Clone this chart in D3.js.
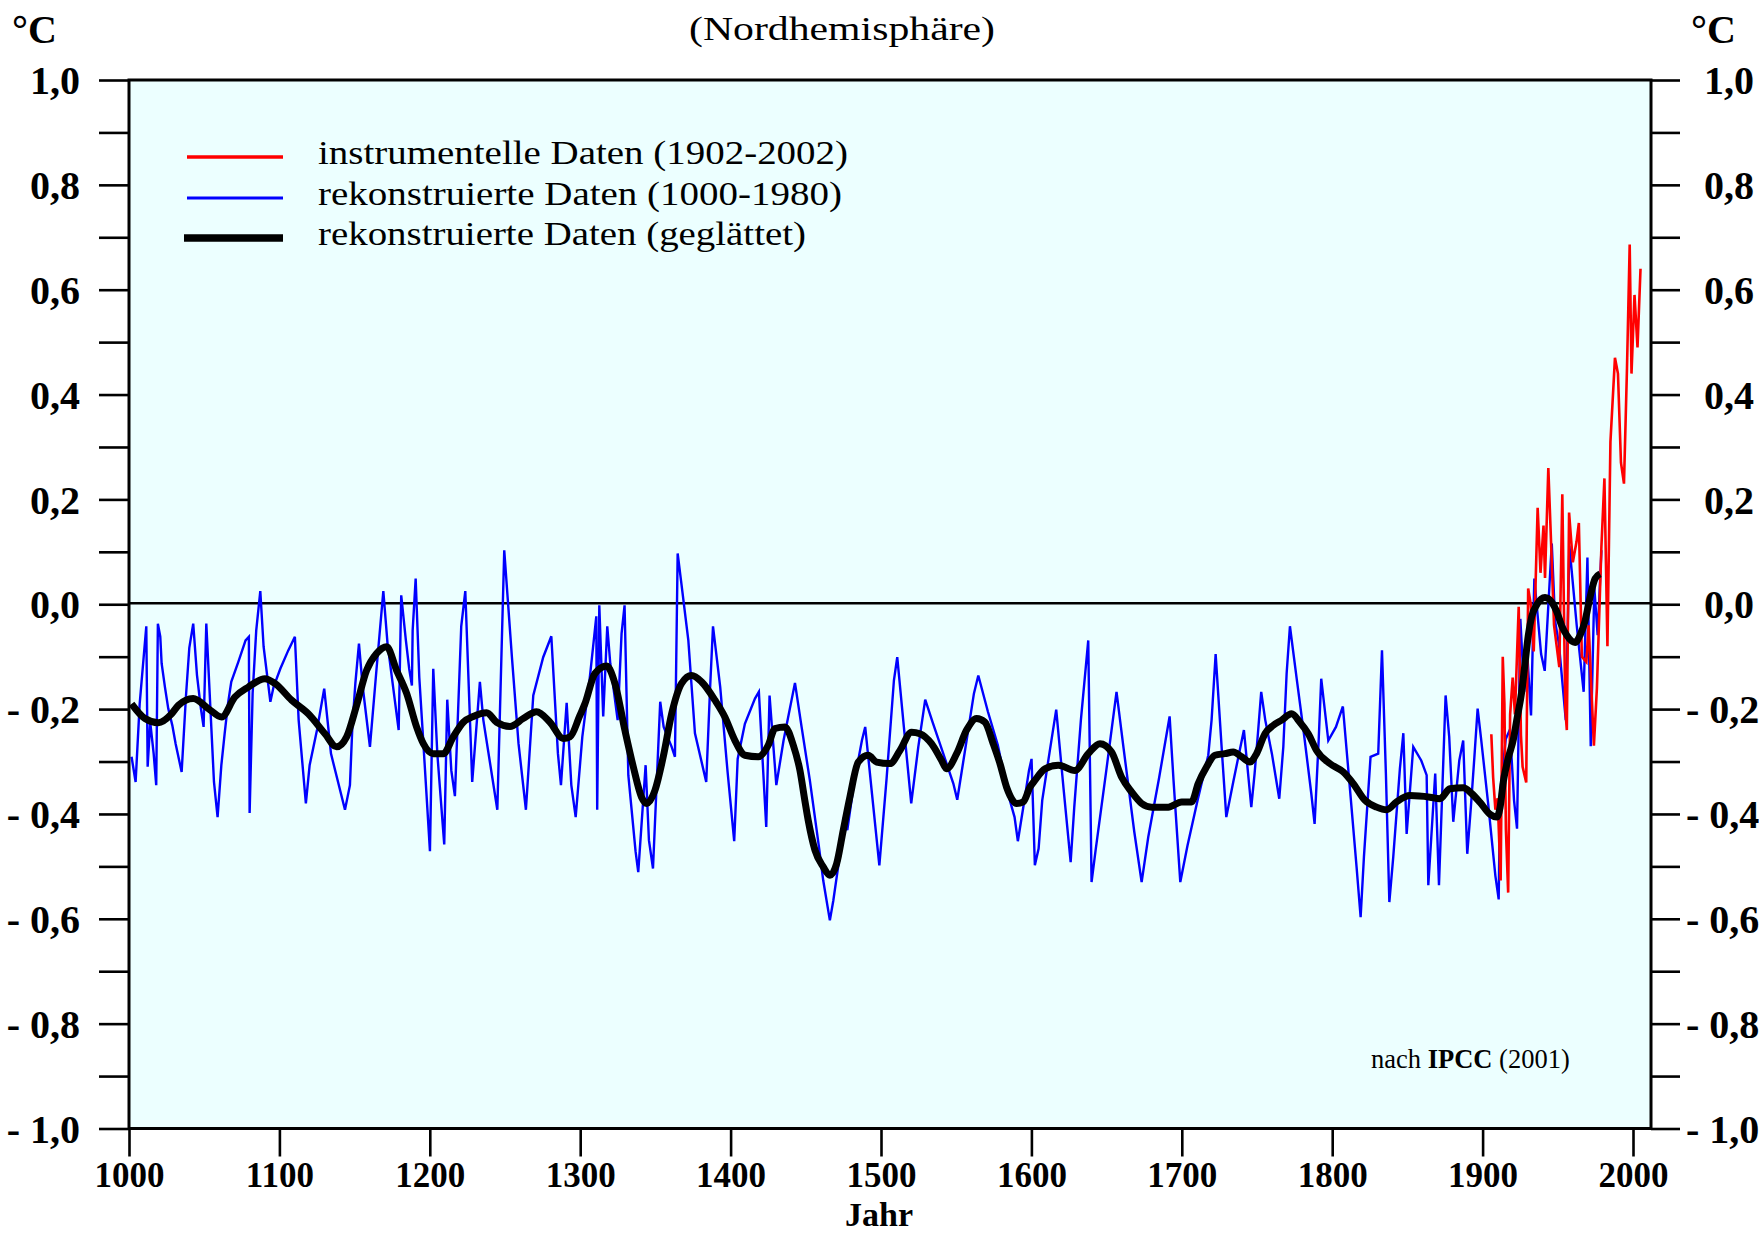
<!DOCTYPE html>
<html><head><meta charset="utf-8">
<script src="https://cdn.jsdelivr.net/npm/d3@7"></script>
<style>html,body{margin:0;padding:0;background:#fff;} svg{display:block;}</style>
</head><body>
<svg id="chart" width="1759" height="1238"></svg>
<script>
// ---- data ----
const reconYears = [1001.7,1004.4,1007.1,1011.5,1012.4,1014.1,1016.4,1018.1,1019.2,1020.8,1021.7,1023.9,1026.1,1028.8,1031.0,1035.0,1037.9,1040.1,1042.7,1045.2,1047.8,1049.6,1051.4,1054.3,1056.5,1058.9,1061.4,1063.6,1065.8,1068.0,1072.7,1077.5,1079.7,1080.2,1082.2,1084.6,1087.3,1089.5,1094.0,1096.1,1100.6,1105.9,1110.3,1112.8,1117.6,1120.1,1125.0,1129.8,1134.3,1143.6,
1146.9,1148.5,1150.5,1152.9,1155.3,1160.2,1164.6,1169.1,1171.9,1179.3,1181.0,1184.1,1186.3,1188.1,1188.6,1190.6,1193.0,1195.2,1200.1,1202.3,1205.0,1209.6,1211.6,1214.3,1216.7,1220.9,1223.6,1228.2,1233.3,1235.6,1244.9,1249.5,1254.6,1259.0,1263.9,1268.8,1275.4,1280.8,1285.2,1287.2,1291.0,1294.1,1297.0,
1301.4,1306.3,1308.5,1310.7,1311.3,1312.7,1315.3,1318.0,1320.0,1324.9,1327.5,1329.5,1332.0,1336.8,1338.6,1343.5,1345.7,1348.4,1353.2,1355.5,1360.8,1363.0,1364.8,1367.0,1371.9,1376.3,1383.8,1386.3,1388.3,1393.1,1398.0,1402.4,1404.7,1409.5,1416.2,1418.8,1423.7,1425.9,1430.4,1435.2,1442.8,
1447.2,1452.7,1458.9,1461.6,1466.0,1468.3,1473.1,1475.4,1477.6,1482.0,1487.3,1489.5,1494.0,1498.9,1503.7,1508.6,1510.8,1515.2,1520.1,1524.8,1529.4,1534.3,1541.4,1548.1,1550.7,1556.9,1561.8,1564.7,1571.1,1577.7,1584.4,1588.8,1591.0,1595.5,
1598.4,1600.1,1602.3,1604.8,1607.2,1612.1,1616.5,1621.4,1626.1,1628.5,1632.9,1637.8,1640.0,1642.7,1649.8,1656.6,1661.3,1668.4,1673.3,1677.7,1684.8,1691.9,1694.5,1699.0,1703.8,1710.5,1717.6,1719.8,1722.5,1726.9,1729.6,1734.4,1741.3,
1746.2,1748.4,1750.6,1752.8,1755.5,1759.9,1764.8,1767.5,1769.7,1771.9,1776.8,1781.2,1786.1,1788.3,1791.0,1792.7,1797.4,1802.5,1807.1,1811.8,1816.2,1818.9,1821.1,1825.5,1830.6,1833.1,1835.7,1838.0,1840.6,1845.0,1847.3,1849.5,1853.9,1859.2,1862.8,1863.9,1868.5,1871.0,1875.4,1877.8,1880.5,1884.5,1887.1,1889.8,
1892.3,1894.5,1896.7,1899.0,1903.8,1908.5,1910.7,1911.6,1915.4,1918.2,1920.9,1922.9,1925.1,1927.6,1930.0,1932.2,1934.4,1938.9,1941.3,1946.0,1948.2,1950.8,1955.3,1957.7,1962.6,1967.2,1969.7,1971.9,1974.3,1976.5,1979.0];
const reconValues = [-0.291,-0.339,-0.190,-0.042,-0.310,-0.225,-0.285,-0.345,-0.037,-0.062,-0.113,-0.158,-0.199,-0.231,-0.266,-0.320,-0.174,-0.083,-0.037,-0.135,-0.199,-0.234,-0.037,-0.209,-0.339,-0.406,-0.307,-0.247,-0.190,-0.148,-0.110,-0.069,-0.062,-0.398,-0.170,-0.050,0.025,-0.081,-0.186,-0.158,-0.123,-0.088,-0.062,-0.221,-0.380,-0.307,-0.240,-0.161,-0.285,-0.392,
-0.345,-0.234,-0.151,-0.075,-0.155,-0.272,-0.123,0.025,-0.075,-0.240,0.017,-0.069,-0.123,-0.155,-0.050,0.049,-0.139,-0.240,-0.471,-0.123,-0.285,-0.458,-0.182,-0.317,-0.366,-0.042,0.025,-0.339,-0.148,-0.221,-0.392,0.103,-0.101,-0.266,-0.392,-0.174,-0.101,-0.061,-0.285,-0.345,-0.188,-0.345,-0.406,
-0.253,-0.142,-0.083,-0.023,-0.392,-0.002,-0.214,-0.042,-0.113,-0.221,-0.056,-0.002,-0.326,-0.471,-0.511,-0.307,-0.450,-0.504,-0.186,-0.234,-0.272,-0.291,0.097,0.046,-0.069,-0.246,-0.339,-0.164,-0.042,-0.158,-0.320,-0.452,-0.295,-0.228,-0.180,-0.167,-0.425,-0.174,-0.345,-0.260,-0.150,
-0.234,-0.336,-0.466,-0.527,-0.603,-0.565,-0.469,-0.406,-0.431,-0.342,-0.260,-0.234,-0.361,-0.498,-0.333,-0.145,-0.101,-0.234,-0.380,-0.272,-0.182,-0.225,-0.285,-0.342,-0.373,-0.260,-0.170,-0.136,-0.205,-0.269,-0.361,-0.406,-0.452,-0.371,
-0.317,-0.295,-0.498,-0.466,-0.374,-0.282,-0.201,-0.352,-0.492,-0.387,-0.221,-0.069,-0.530,-0.469,-0.317,-0.167,-0.275,-0.434,-0.530,-0.444,-0.333,-0.214,-0.336,-0.530,-0.460,-0.374,-0.288,-0.221,-0.095,-0.291,-0.406,-0.336,-0.240,
-0.387,-0.323,-0.247,-0.167,-0.221,-0.285,-0.371,-0.272,-0.132,-0.042,-0.151,-0.247,-0.361,-0.419,-0.260,-0.142,-0.260,-0.234,-0.195,-0.352,-0.501,-0.597,-0.482,-0.291,-0.285,-0.088,-0.323,-0.568,-0.482,-0.314,-0.246,-0.438,-0.272,-0.298,-0.326,-0.536,-0.323,-0.536,-0.174,-0.253,-0.415,-0.298,-0.260,-0.476,
-0.383,-0.293,-0.199,-0.257,-0.383,-0.518,-0.563,-0.361,-0.257,-0.239,-0.374,-0.428,-0.028,-0.167,-0.109,-0.212,0.049,-0.095,-0.127,0.116,-0.032,-0.077,-0.221,0.112,-0.041,-0.167,0.089,-0.271,0.031,-0.059,0.103];

const smoothYears = [1001.7,1010.6,1019.5,1028.3,1032.8,1042.7,1052.7,1061.6,1070.4,1079.3,1090.4,1097.0,1108.1,1119.2,1130.3,1138.0,1144.7,1151.3,1158.0,1164.6,1171.3,1177.9,1184.6,1191.2,1195.7,1202.3,1209.0,1215.6,1222.3,1228.9,1237.8,1244.4,1253.3,1262.1,1271.0,1279.9,1288.7,1293.2,1299.8,1303.1,1309.8,1317.6,1323.1,1329.7,1335.3,1340.8,1344.2,1349.7,1355.2,1360.8,1367.4,1374.1,1380.7,1389.6,1396.2,1402.9,1409.5,1418.4,1425.0,1429.5,1436.1,1441.7,1446.1,1449.4,1451.6,1456.1,1461.6,1466.0,1470.5,1474.9,1479.3,1484.9,1491.5,1497.1,1505.9,1512.6,1520.3,1525.9,1533.6,1540.3,1543.6,1550.3,1556.9,1563.6,1569.1,1574.6,1579.1,1583.5,1590.2,1594.6,1599.0,1602.3,1609.0,1617.9,1628.9,1637.8,1645.6,1653.3,1660.0,1666.6,1673.3,1679.9,1691.0,1699.9,1706.5,1710.9,1716.5,1722.0,1728.7,1734.2,1739.8,1745.3,1749.7,1755.3,1760.8,1766.4,1773.0,1778.5,1784.1,1789.6,1798.5,1807.4,1814.0,1821.8,1829.5,1836.2,1842.8,1851.7,1865.0,1871.6,1878.3,1887.1,1892.7,1898.3,1905.0,1909.4,1911.6,1913.8,1917.1,1920.5,1922.7,1926.0,1928.2,1930.4,1932.7,1936.0,1941.5,1946.0,1949.3,1952.6,1955.9,1961.5,1964.8,1968.1,1971.4,1974.8,1978.1];
const smoothValues = [-0.190,-0.218,-0.226,-0.209,-0.193,-0.180,-0.199,-0.215,-0.177,-0.158,-0.142,-0.151,-0.183,-0.209,-0.247,-0.272,-0.253,-0.193,-0.126,-0.094,-0.081,-0.126,-0.170,-0.234,-0.266,-0.285,-0.285,-0.253,-0.225,-0.214,-0.207,-0.225,-0.233,-0.218,-0.205,-0.225,-0.256,-0.253,-0.212,-0.190,-0.132,-0.118,-0.151,-0.240,-0.310,-0.368,-0.380,-0.355,-0.291,-0.209,-0.151,-0.136,-0.148,-0.183,-0.215,-0.260,-0.288,-0.291,-0.269,-0.237,-0.234,-0.269,-0.317,-0.375,-0.412,-0.469,-0.501,-0.517,-0.495,-0.431,-0.368,-0.301,-0.288,-0.301,-0.304,-0.279,-0.244,-0.247,-0.266,-0.298,-0.314,-0.285,-0.240,-0.218,-0.225,-0.266,-0.304,-0.349,-0.380,-0.377,-0.349,-0.336,-0.314,-0.307,-0.317,-0.285,-0.266,-0.282,-0.330,-0.358,-0.380,-0.387,-0.387,-0.377,-0.377,-0.342,-0.310,-0.288,-0.285,-0.282,-0.291,-0.301,-0.285,-0.247,-0.231,-0.221,-0.209,-0.225,-0.247,-0.279,-0.304,-0.320,-0.342,-0.374,-0.387,-0.392,-0.377,-0.365,-0.368,-0.371,-0.352,-0.350,-0.361,-0.378,-0.401,-0.406,-0.388,-0.338,-0.293,-0.257,-0.221,-0.167,-0.113,-0.059,-0.023,-0.001,0.013,0.004,-0.014,-0.041,-0.059,-0.073,-0.059,-0.032,0.013,0.049,0.058];

const instrYears = [1905.8,1907.0,1908.5,1910.0,1912.0,1913.4,1914.5,1915.5,1917.0,1918.3,1920.0,1921.5,1924.0,1925.5,1926.6,1929.0,1930.3,1932.0,1934.0,1936.6,1938.5,1940.5,1941.5,1943.7,1945.5,1947.5,1951.0,1953.0,1955.0,1956.0,1957.5,1960.0,1962.5,1964.0,1966.0,1969.0,1970.5,1974.0,1976.0,1979.0,1981.0,1983.0,1985.0,1988.0,1990.0,1992.0,1994.0,1996.0,1997.8,1999.0,2001.0,2003.0,2005.0];
const instrValues = [-0.248,-0.33,-0.392,-0.37,-0.527,-0.100,-0.19,-0.43,-0.55,-0.21,-0.14,-0.21,-0.005,-0.25,-0.31,-0.34,0.03,0.0,-0.09,0.184,0.06,0.15,0.05,0.26,0.12,-0.04,-0.12,0.21,-0.20,-0.24,0.175,0.08,0.12,0.155,-0.10,-0.11,-0.04,-0.27,-0.16,0.11,0.24,-0.08,0.31,0.47,0.44,0.27,0.23,0.45,0.686,0.44,0.59,0.49,0.64];

const xTickValues = [1000,1100,1200,1300,1400,1500,1600,1700,1800,1900,2000];
const xTickLabels = ["1000","1100","1200","1300","1400","1500","1600","1700","1800","1900","2000"];
const yTickValues = [-1.0,-0.9,-0.8,-0.7,-0.6,-0.5,-0.4,-0.3,-0.2,-0.1,0.0,0.1,0.2,0.3,0.4,0.5,0.6,0.7,0.8,0.9,1.0];
const yTickLabels = ["- 1,0","","- 0,8","","- 0,6","","- 0,4","","- 0,2","","0,0","","0,2","","0,4","","0,6","","0,8","","1,0"];
const legendLabels = ["instrumentelle Daten (1902-2002)","rekonstruierte Daten (1000-1980)","rekonstruierte Daten (geglättet)"];

// ---- drawing ----
const svg = d3.select("#chart");
const L = 129, T = 80, R = 1651, B = 1128.5;
const x = d3.scaleLinear().domain([1000, 2000]).range([L, 1633]);
const y = d3.scaleLinear().domain([-1, 1]).range([B, T]);
const serif = "'Liberation Serif','Times New Roman',serif";

svg.append("rect").attr("x",0).attr("y",0).attr("width",1759).attr("height",1238).attr("fill","#fff");
svg.append("rect").attr("x",L).attr("y",T).attr("width",R-L).attr("height",B-T).attr("fill","#ECFFFF");

// axes
const gl = svg.append("g").attr("transform",`translate(${L},0)`)
  .call(d3.axisLeft(y).tickValues(yTickValues).tickSize(30).tickPadding(19).tickFormat((d,i)=>yTickLabels[i]));
const gr = svg.append("g").attr("transform",`translate(${R},0)`)
  .call(d3.axisRight(y).tickValues(yTickValues).tickSize(29).tickPadding(24).tickFormat((d,i)=>yTickLabels[i]));
gr.selectAll(".tick text").attr("x", (d)=> d < 0 ? 35 : 53);
const gb = svg.append("g").attr("transform",`translate(0,${B})`)
  .call(d3.axisBottom(x).tickValues(xTickValues).tickSize(28).tickPadding(6).tickFormat((d,i)=>xTickLabels[i]));
[gl,gr,gb].forEach(g=>{
  g.select(".domain").remove();
  g.selectAll(".tick line").attr("stroke","#000").attr("stroke-width",2.6);
  g.selectAll(".tick text").attr("fill","#000").style("font-family",serif).style("font-weight","bold");
});
gl.selectAll(".tick text").style("font-size","40px").attr("dy","0.34em");
gr.selectAll(".tick text").style("font-size","40px").attr("dy","0.34em");
gb.selectAll(".tick text").style("font-size","35px");

// zero line
svg.append("line").attr("x1",L).attr("x2",R).attr("y1",y(0)-1).attr("y2",y(0)-1)
  .attr("stroke","#000").attr("stroke-width",2.6);

const line = d3.line().x(d=>x(d[0])).y(d=>y(d[1]));
const recon = reconYears.map((yr,i)=>[yr,reconValues[i]]);
const smooth = smoothYears.map((yr,i)=>[yr,smoothValues[i]]);
const instr = instrYears.map((yr,i)=>[yr,instrValues[i]]);

svg.append("path").datum(recon).attr("d",line).attr("fill","none").attr("stroke","#0000FF").attr("stroke-width",2.4).attr("stroke-linejoin","miter");
svg.append("path").datum(instr).attr("d",line).attr("fill","none").attr("stroke","#FF0000").attr("stroke-width",2.6);
svg.append("path").datum(smooth).attr("d",d3.line().x(d=>x(d[0])).y(d=>y(d[1])).curve(d3.curveMonotoneX))
  .attr("fill","none").attr("stroke","#000").attr("stroke-width",7).attr("stroke-linejoin","round").attr("stroke-linecap","butt");

// frame
svg.append("rect").attr("x",L).attr("y",T).attr("width",R-L).attr("height",B-T)
  .attr("fill","none").attr("stroke","#000").attr("stroke-width",3);

// legend
const legColors = ["#FF0000","#0000FF","#000"];
const legWidths = [3.3,3,7.5];
const legY = [157,198,238];
const legTextW = [530,524,488];
legendLabels.forEach((t,i)=>{
  svg.append("line").attr("x1", i===2?184:187).attr("x2",283).attr("y1",legY[i]).attr("y2",legY[i])
    .attr("stroke",legColors[i]).attr("stroke-width",legWidths[i]);
  svg.append("text").attr("x",318).attr("y",legY[i]+7).text(t)
    .attr("textLength",legTextW[i]).attr("lengthAdjust","spacingAndGlyphs")
    .style("font-family",serif).style("font-size","34px").attr("fill","#000");
});

// titles / units
svg.append("text").attr("x",842).attr("y",40).attr("text-anchor","middle").text("(Nordhemisphäre)")
  .attr("textLength",306).attr("lengthAdjust","spacingAndGlyphs")
  .style("font-family",serif).style("font-size","34px");
svg.append("text").attr("x",12).attr("y",43).text("°C").style("font-family",serif).style("font-size","40px").style("font-weight","bold");
svg.append("text").attr("x",1691).attr("y",43).text("°C").style("font-family",serif).style("font-size","40px").style("font-weight","bold");
svg.append("text").attr("x",879).attr("y",1226).attr("text-anchor","middle").text("Jahr")
  .style("font-family",serif).style("font-size","34px").style("font-weight","bold");
const src = svg.append("text").attr("x",1371).attr("y",1068).style("font-family",serif).style("font-size","26.5px");
src.append("tspan").text("nach ");
src.append("tspan").style("font-weight","bold").text("IPCC");
src.append("tspan").text(" (2001)");
</script>
</body></html>
